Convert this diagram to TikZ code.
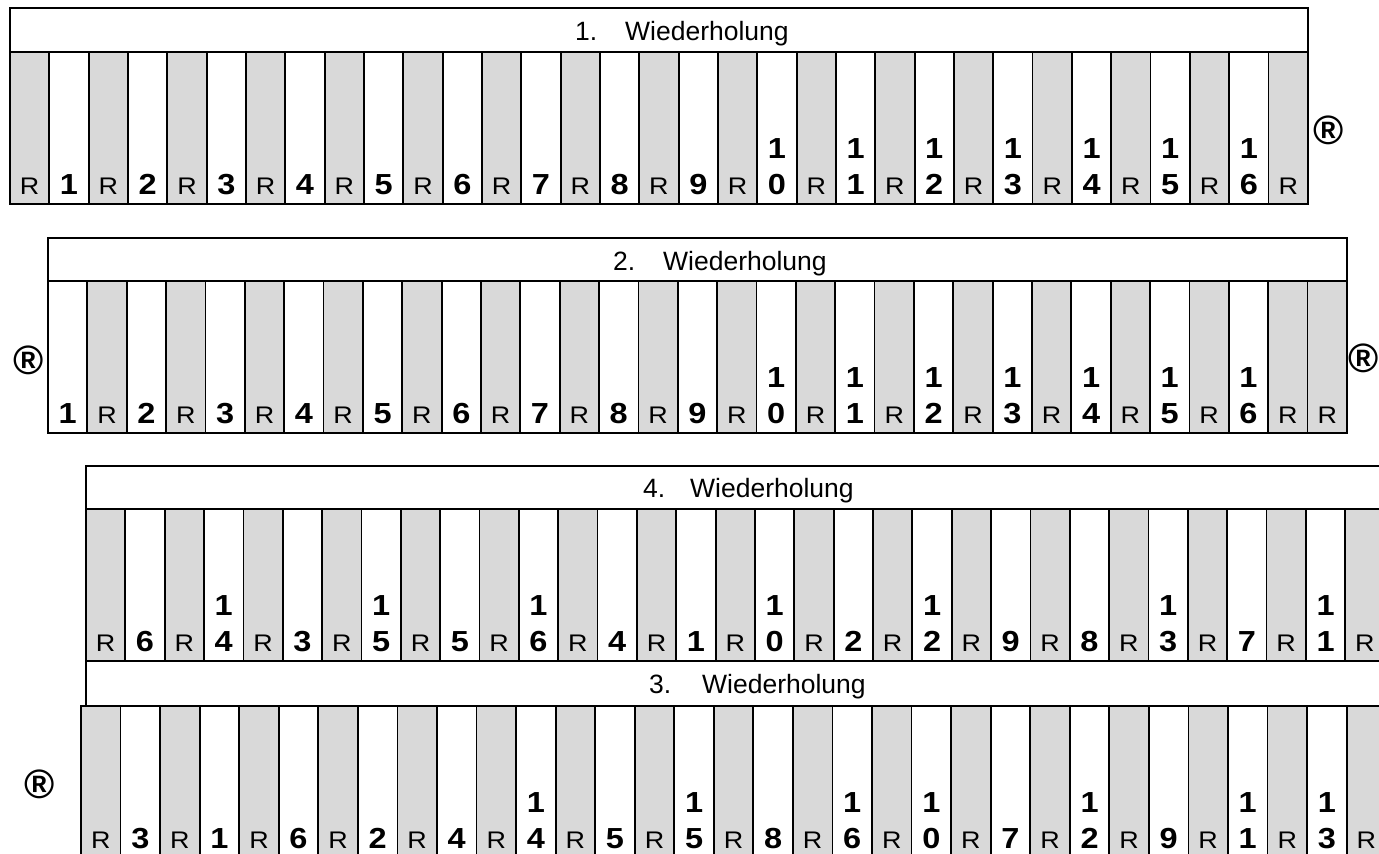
\documentclass[tikz,border=0pt]{standalone}
\usepackage{graphicx}
\usepackage{fontspec}
\setmainfont{Liberation Sans}
\definecolor{cellgray}{HTML}{D9D9D9}
\tikzset{
  lw/.style={line width=1.8pt},
  cellbox/.style={draw=black, lw, minimum height=152pt, inner sep=0pt, outer sep=0pt, anchor=north west},
  rcell/.style={cellbox, fill=cellgray},
  ncell/.style={cellbox, fill=white},
  rtext/.style={anchor=base, inner sep=0pt},
  ntext/.style={anchor=base, inner sep=0pt},
  titlebox/.style={draw=black, lw, fill=white, inner sep=0pt, outer sep=0pt, anchor=north west},
  ttext/.style={font=\fontsize{26.5}{26.5}\selectfont, anchor=base west, inner sep=0pt},
  regmark/.style={font=\fontsize{41}{41}\selectfont\bfseries, inner sep=0pt},
}
\newcommand{\rtxt}[1]{\scalebox{1.12}[1]{\fontsize{24}{24}\selectfont #1}}
\newcommand{\ntxt}[1]{\scalebox{1.12}[1]{\fontsize{29}{29}\selectfont\bfseries #1}}
\newcommand{\cellrow}[5]{%
  \foreach \v [count=\i from 0] in {#5} {
    \pgfmathsetmacro{\xl}{#2+\i*#4}
    \ifnum\v=0
      \node[rcell, minimum width=#4pt] (#1-\i) at (\xl,#3) {};
      \node[rtext] (#1-\i-t) at ([yshift=10pt]#1-\i.south) {\rtxt{R}};
    \else
      \node[ncell, minimum width=#4pt] (#1-\i) at (\xl,#3) {};
      \ifnum\v>9
        \pgfmathtruncatemacro{\da}{\v/10}
        \pgfmathtruncatemacro{\db}{mod(\v,10)}
        \node[ntext] (#1-\i-a) at ([yshift=46pt]#1-\i.south) {\ntxt{\da}};
        \node[ntext] (#1-\i-t) at ([yshift=10pt]#1-\i.south) {\ntxt{\db}};
      \else
        \node[ntext] (#1-\i-t) at ([yshift=10pt]#1-\i.south) {\ntxt{\v}};
      \fi
    \fi
  }}
\begin{document}
\begin{tikzpicture}[x={(1pt,0)}, y={(0,-1pt)}]
\useasboundingbox (0,0) rectangle (1379,854);
\clip (0,0) rectangle (1379,854);
% row 1
\node[titlebox, minimum width=1298pt, minimum height=44pt] (title1) at (10,8) {};
\node[ttext] (title1n) at (575,40) {1.};
\node[ttext] (title1w) at (625,40) {Wiederholung};
\cellrow{a}{10}{52}{39.33}{0,1,0,2,0,3,0,4,0,5,0,6,0,7,0,8,0,9,0,10,0,11,0,12,0,13,0,14,0,15,0,16,0}
\node[regmark] (reg1) at (1329,130) {®};
% row 2
\node[titlebox, minimum width=1299pt, minimum height=43pt] (title2) at (48,238) {};
\node[ttext] (title2n) at (613,270) {2.};
\node[ttext] (title2w) at (663,270) {Wiederholung};
\cellrow{b}{48}{281}{39.36}{1,0,2,0,3,0,4,0,5,0,6,0,7,0,8,0,9,0,10,0,11,0,12,0,13,0,14,0,15,0,16,0,0}
\node[regmark] (reg2l) at (29,360) {®};
\node[regmark] (reg2r) at (1364,358) {®};
% row 3 (4. Wiederholung)
\node[titlebox, minimum width=1400pt, minimum height=43pt] (title4) at (86,466) {};
\node[ttext] (title4n) at (643,497) {4.};
\node[ttext] (title4w) at (690,497) {Wiederholung};
\cellrow{c}{86}{509}{39.35}{0,6,0,14,0,3,0,15,0,5,0,16,0,4,0,1,0,10,0,2,0,12,0,9,0,8,0,13,0,7,0,11,0}
% 3. Wiederholung
\node[titlebox, minimum width=1400pt, minimum height=45pt] (title3) at (86,661) {};
\node[ttext] (title3n) at (649,693) {3.};
\node[ttext] (title3w) at (702,693) {Wiederholung};
\cellrow{d}{81}{706}{39.55}{0,3,0,1,0,6,0,2,0,4,0,14,0,5,0,15,0,8,0,16,0,10,0,7,0,12,0,9,0,11,0,13,0}
\node[regmark] (reg4) at (40,784) {®};
\end{tikzpicture}
\end{document}
